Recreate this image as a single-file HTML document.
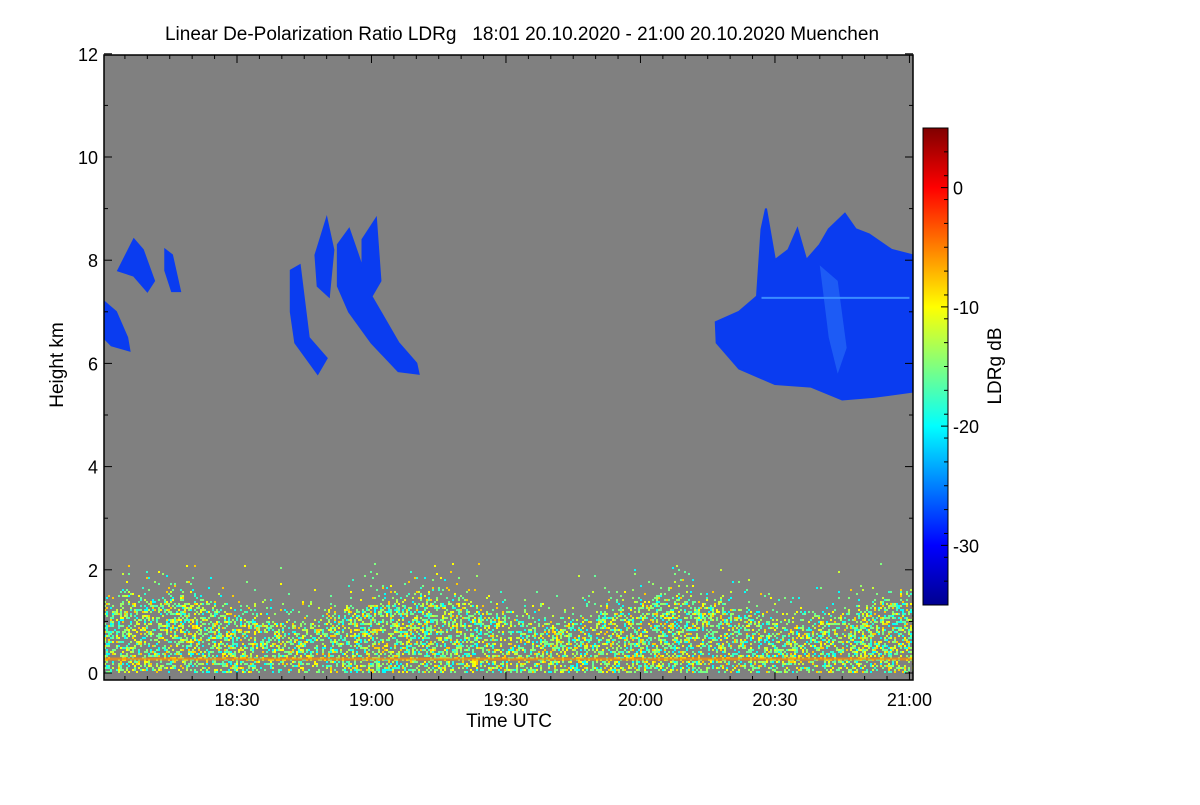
<!DOCTYPE html>
<html><head><meta charset="utf-8"><style>
body{margin:0;background:#fff;width:1200px;height:800px;overflow:hidden}
svg text{font-family:"Liberation Sans",Arial,sans-serif;fill:#000}
</style></head><body>
<svg id="chart" width="1200" height="800" xmlns="http://www.w3.org/2000/svg">
<text x="522" y="40" font-size="19" text-anchor="middle" style="white-space:pre">Linear De-Polarization Ratio LDRg   18:01 20.10.2020 - 21:00 20.10.2020 Muenchen</text>
<defs>
<linearGradient id="jet" x1="0" y1="1" x2="0" y2="0">
<stop offset="0" stop-color="#00008f"/><stop offset="0.125" stop-color="#0000ff"/>
<stop offset="0.375" stop-color="#00ffff"/><stop offset="0.625" stop-color="#ffff00"/>
<stop offset="0.875" stop-color="#ff0000"/><stop offset="1" stop-color="#800000"/>
</linearGradient>
<clipPath id="pc"><rect x="104" y="55" width="809" height="625"/></clipPath>
</defs>
<g id="plot" clip-path="url(#pc)"></g>
<g id="axes"></g>
</svg>
<script>
// data
const yTicks=[0,2,4,6,8,10,12];
const xTickMinutes=[30,60,90,120,150,180];
const xTickLabels=["18:30","19:00","19:30","20:00","20:30","21:00"];
const cbTicks=[0,-10,-20,-30];
const cbRange=[-35,5];
const cloudA=[[0.3,7.2],[3,7.0],[5.5,6.5],[6,6.25],[2,6.35],[0.3,6.5]];
const cloudB=[[3.5,7.8],[7,8.4],[9,8.2],[11.5,7.6],[10,7.4],[7,7.7]];
const cloudC=[[14,8.2],[15.5,8.1],[17.3,7.4],[15.5,7.4],[14,7.8]];
const cloudD1=[[42,7.8],[44,7.9],[46,6.5],[50,6.1],[48,5.8],[43,6.4],[42,7.0]];
const cloudD2=[[47.5,8.1],[50,8.8],[51.5,8.2],[50.5,7.3],[48,7.5]];
const cloudD3=[[52.5,8.3],[55,8.6],[57,8.1],[60,7.3],[66,6.4],[70,6.0],[70.5,5.8],[66,5.85],[60,6.4],[55,7.0],[52.5,7.5]];
const cloudD4=[[58,8.4],[61,8.8],[62,7.6],[60,7.3],[58,7.6]];
const cloudE=[[136.8,6.8],[142,7.0],[146,7.3],[147,8.6],[148,9.0],[150,8.0],[153,8.2],[155,8.6],[157,8.0],[160,8.3],[162,8.6],[165.6,8.9],[168,8.6],[171,8.5],[176,8.2],[180.5,8.1],[180.5,5.45],[172,5.35],[165,5.3],[158,5.55],[150,5.6],[142,5.9],[137,6.4]];
const clouds=[cloudA,cloudB,cloudC,cloudD1,cloudD2,cloudD3,cloudD4,cloudE];

const X=m=>102.5+m*4.483;
const Y=k=>673-k*51.6;
const CB=v=>605-(v-cbRange[0])/(cbRange[1]-cbRange[0])*477;
const NS="http://www.w3.org/2000/svg";
function mk(t,a,p){const e=document.createElementNS(NS,t);for(const k in a)e.setAttribute(k,a[k]);p.appendChild(e);return e;}
function jet(v){let t=(v-cbRange[0])/(cbRange[1]-cbRange[0]);
 const r=Math.max(0,Math.min(1,1.5-Math.abs(4*t-3))),g=Math.max(0,Math.min(1,1.5-Math.abs(4*t-2))),b=Math.max(0,Math.min(1,1.5-Math.abs(4*t-1)));
 return `rgb(${r*255|0},${g*255|0},${b*255|0})`;}
const plot=document.getElementById('plot'),axes=document.getElementById('axes');
const bg=mk('rect',{x:104,y:55,width:809,height:625,fill:'#808080'},plot);


clouds.forEach((c,i)=>{
 const p=mk('polygon',{points:c.map(q=>X(q[0])+','+Y(q[1])).join(' '),fill:'#0a3cf0',stroke:'#0a3cf0','stroke-width':2},plot);
 
 
});
const tex=mk('g',{},plot);


mk('polygon',{points:[[160,7.9],[164,7.6],[166,6.3],[164,5.8],[162,6.5]].map(q=>X(q[0])+','+Y(q[1])).join(' '),fill:'#2a70f8',opacity:0.6},tex);
mk('line',{x1:X(147),y1:Y(7.27),x2:X(180),y2:Y(7.27),stroke:'#3a8cff','stroke-width':2},tex);
function h(i,j){let n=(i*374761393+j*668265263)|0;n=(n^(n>>>13))*1274126177|0;return ((n^(n>>>16))>>>0)/4294967296;}
const nz=mk('g',{},plot);


const vals=[-14,-16,-12,-10,-18,-20,-8,-15];
for(let px=104;px<913;px+=2){
 const m=(px-102.5)/4.483;
 const top=1.1+0.25*Math.sin(m/9);
 for(let py=673;py>Y(2.1);py-=2){
  const k=(673-py)/51.6;
  const r=h(px,py);
  const dens=k<top?0.42:0.42*Math.exp(-(k-top)*5);
  if(r<dens){const v=vals[(h(py,px)*8)|0];mk('rect',{x:px,y:py-2,width:2,height:2,fill:jet(v)},nz);}
 }
}
const ol=mk('rect',{x:104,y:Y(0.3),width:809,height:3,fill:'#ff8c00',opacity:0.7},plot);


const fr=mk('rect',{x:104,y:55,width:809,height:625,fill:'none',stroke:'#000','stroke-width':1.5},axes);


yTicks.forEach(t=>{
 mk('line',{x1:104,y1:Y(t),x2:112,y2:Y(t),stroke:'#000'},axes);
 mk('line',{x1:913,y1:Y(t),x2:905,y2:Y(t),stroke:'#000'},axes);
 const tx=mk('text',{x:98,y:Y(t)+7,'font-size':18,'text-anchor':'end'},axes);tx.textContent=t;
 
 
 if(t<12){mk('line',{x1:104,y1:Y(t+1),x2:108,y2:Y(t+1),stroke:'#000'},axes);mk('line',{x1:913,y1:Y(t+1),x2:909,y2:Y(t+1),stroke:'#000'},axes);}
});
for(let m=5;m<=180;m+=5){const big=m%30==0;
 mk('line',{x1:X(m),y1:680,x2:X(m),y2:680-(big?8:4),stroke:'#000'},axes);
 mk('line',{x1:X(m),y1:55,x2:X(m),y2:55+(big?8:4),stroke:'#000'},axes);}
xTickMinutes.forEach((m,i)=>{const tx=mk('text',{x:X(m),y:706,'font-size':18,'text-anchor':'middle'},axes);tx.textContent=xTickLabels[i];
 
 });
const xl=mk('text',{x:509,y:727,'font-size':19,'text-anchor':'middle'},axes);xl.textContent='Time UTC';


const yl=mk('text',{x:0,y:0,'font-size':19,'text-anchor':'middle',transform:'translate(63,365) rotate(-90)'},axes);yl.textContent='Height km';


const cb=mk('rect',{x:923,y:128,width:25,height:477,fill:'url(#jet)',stroke:'#000'},axes);


for(let v=cbRange[0]+2;v<cbRange[1];v+=2){mk('line',{x1:948,y1:CB(v),x2:944,y2:CB(v),stroke:'#000'},axes);}
cbTicks.forEach(v=>{mk('line',{x1:948,y1:CB(v),x2:941,y2:CB(v),stroke:'#000'},axes);
 const tx=mk('text',{x:953,y:CB(v)+7,'font-size':18},axes);tx.textContent=v;
 
 });
const cl=mk('text',{x:0,y:0,'font-size':19,'text-anchor':'middle',transform:'translate(1001,366) rotate(-90)'},axes);cl.textContent='LDRg dB';


</script>
</body></html>
